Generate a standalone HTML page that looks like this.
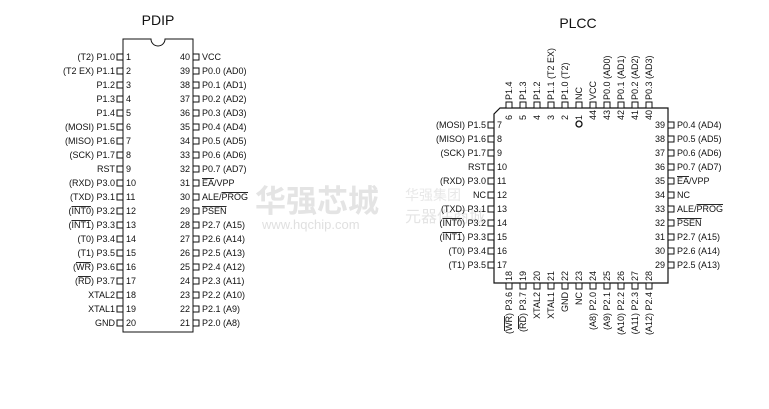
<!DOCTYPE html>
<html><head><meta charset="utf-8"><style>
html,body{margin:0;padding:0;background:#fff;}
svg{display:block;font-family:"Liberation Sans",Arial,sans-serif;}
text{font-size:9px;fill:#111;}
.o{text-decoration:overline;}
</style></head><body>
<svg width="769" height="409" viewBox="0 0 769 409" xmlns="http://www.w3.org/2000/svg">
<!-- watermark -->
<text x="255" y="212" style="font-size:31px;fill:#e4e4e4;font-family:'Noto Sans CJK SC',sans-serif;font-weight:bold">华强芯城</text>
<text x="262" y="229" style="font-size:13px;fill:#e0e0e0">www.hqchip.com</text>
<text x="405" y="200" style="font-size:14px;fill:#e8e8e8;font-family:'Noto Sans CJK SC',sans-serif">华强集团</text>
<text x="405" y="222" style="font-size:16px;fill:#e4e4e4;font-family:'Noto Sans CJK SC',sans-serif">元器件商城</text>

<text x="158" y="25" text-anchor="middle" style="font-size:14px">PDIP</text>
<text x="578" y="28" text-anchor="middle" style="font-size:14px">PLCC</text>

<path d="M123,39 H151 A7,7 0 0 0 165,39 H193 V332 H123 Z" fill="none" stroke="#111" stroke-width="1"/>
<path d="M500,108 H668 V283 H494 V114 Z" fill="none" stroke="#111" stroke-width="1.2"/>
<circle cx="579" cy="124" r="3" fill="none" stroke="#111" stroke-width="1.3"/>
</svg>
<script>
const NS="http://www.w3.org/2000/svg";
const svg=document.querySelector('svg');
function el(t,a,txt){const e=document.createElementNS(NS,t);for(const k in a)e.setAttribute(k,a[k]);if(txt!==undefined)e.innerHTML=txt;svg.appendChild(e);return e;}
function box(x,y){el('rect',{x:x,y:y,width:6,height:6,fill:'#fff',stroke:'#111','stroke-width':1});}
const O=s=>'<tspan class="o">'+s+'</tspan>';
const L=['(T2) P1.0','(T2 EX) P1.1','P1.2','P1.3','P1.4','(MOSI) P1.5','(MISO) P1.6','(SCK) P1.7','RST','(RXD) P3.0','(TXD) P3.1','('+O('INT0')+') P3.2','('+O('INT1')+') P3.3','(T0) P3.4','(T1) P3.5','('+O('WR')+') P3.6','('+O('RD')+') P3.7','XTAL2','XTAL1','GND'];
const R=['VCC','P0.0 (AD0)','P0.1 (AD1)','P0.2 (AD2)','P0.3 (AD3)','P0.4 (AD4)','P0.5 (AD5)','P0.6 (AD6)','P0.7 (AD7)',O('EA')+'/VPP','ALE/'+O('PROG'),O('PSEN'),'P2.7 (A15)','P2.6 (A14)','P2.5 (A13)','P2.4 (A12)','P2.3 (A11)','P2.2 (A10)','P2.1 (A9)','P2.0 (A8)'];
for(let i=0;i<20;i++){const y=57+14*i;
 box(117,y-3);el('text',{x:115,y:y+3,'text-anchor':'end'},L[i]);el('text',{x:126,y:y+3},i+1);
 box(193,y-3);el('text',{x:190,y:y+3,'text-anchor':'end'},40-i);el('text',{x:202,y:y+3},R[i]);}
const PL=['(MOSI) P1.5','(MISO) P1.6','(SCK) P1.7','RST','(RXD) P3.0','NC','(TXD) P3.1','('+O('INT0')+') P3.2','('+O('INT1')+') P3.3','(T0) P3.4','(T1) P3.5'];
const PR=['P0.4 (AD4)','P0.5 (AD5)','P0.6 (AD6)','P0.7 (AD7)',O('EA')+'/VPP','NC','ALE/'+O('PROG'),O('PSEN'),'P2.7 (A15)','P2.6 (A14)','P2.5 (A13)'];
for(let i=0;i<11;i++){const y=125+14*i;
 box(488,y-3);el('text',{x:486,y:y+3,'text-anchor':'end'},PL[i]);el('text',{x:497,y:y+3},7+i);
 box(668,y-3);el('text',{x:665,y:y+3,'text-anchor':'end'},39-i);el('text',{x:677,y:y+3},PR[i]);}
const TN=[6,5,4,3,2,1,44,43,42,41,40];
const TL=['P1.4','P1.3','P1.2','P1.1 (T2 EX)','P1.0 (T2)','NC','VCC','P0.0 (AD0)','P0.1 (AD1)','P0.2 (AD2)','P0.3 (AD3)'];
const BN=[18,19,20,21,22,23,24,25,26,27,28];
const BL=['('+O('WR')+') P3.6','('+O('RD')+') P3.7','XTAL2','XTAL1','GND','NC','(A8) P2.0','(A9) P2.1','(A10) P2.2','(A11) P2.3','(A12) P2.4'];
for(let i=0;i<11;i++){const x=509+14*i;
 box(x-3,102);
 el('text',{x:0,y:0,transform:`translate(${x+3},100) rotate(-90)`},TL[i]);
 el('text',{x:0,y:0,transform:`translate(${x+3},120) rotate(-90)`},TN[i]);
 box(x-3,283);
 el('text',{x:0,y:0,'text-anchor':'end',transform:`translate(${x+3},292) rotate(-90)`},BL[i]);
 el('text',{x:0,y:0,transform:`translate(${x+3},281) rotate(-90)`},BN[i]);}
</script>
</body></html>
